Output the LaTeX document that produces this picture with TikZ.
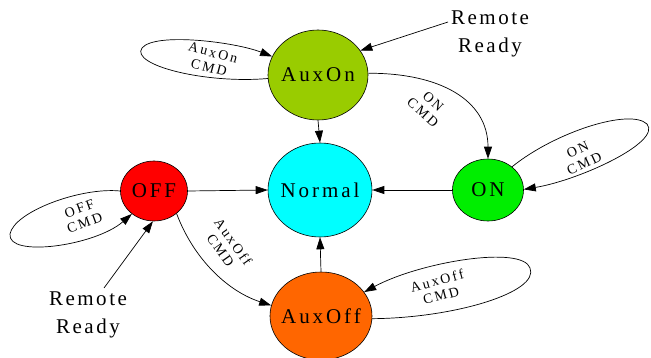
\documentclass[tikz,border=0pt]{standalone}
\usepackage{fontspec}
\setmainfont{Liberation Serif}
\newfontfamily\bigspaced[LetterSpace=14]{Liberation Serif}
\newfontfamily\remspaced[LetterSpace=12]{Liberation Serif}
\newfontfamily\smallspaced[LetterSpace=16]{Liberation Serif}
\usetikzlibrary{shapes.geometric,arrows.meta}
\definecolor{cauxon}{HTML}{99CC00}
\definecolor{cnormal}{HTML}{00FFFF}
\definecolor{coff}{HTML}{FF0000}
\definecolor{con}{HTML}{00EE00}
\definecolor{cauxoff}{HTML}{FF6600}
\newcommand{\nodetxt}[1]{\makebox[0pt][c]{\bigspaced\fontsize{21}{24}\selectfont #1}}
\tikzset{
  stnode/.style={ellipse, draw=black, line width=0.6pt, inner sep=0pt},
  conn/.style={draw=black, line width=0.7pt, -{Triangle[length=12pt,width=8pt]}},
  cmdlabel/.style={font=\smallspaced\fontsize{14}{15.5}\selectfont, align=center, inner sep=0pt},
  remlabel/.style={font=\remspaced\fontsize{21}{28}\selectfont, align=center, inner sep=0pt}
}
\begin{document}
\begin{tikzpicture}[x=1pt,y=-1pt]
\useasboundingbox (0,0) rectangle (651,358);
% states
\node[stnode, fill=cauxon, minimum width=100pt, minimum height=90pt] (auxon) at (318,75) {\nodetxt{AuxOn}};
\node[stnode, fill=cnormal, minimum width=104pt, minimum height=94pt] (normal) at (320,190) {\nodetxt{Normal}};
\node[stnode, fill=coff, minimum width=67pt, minimum height=60pt] (off) at (154,191) {\nodetxt{OFF}};
\node[stnode, fill=con, minimum width=71pt, minimum height=62pt] (on) at (488,190) {\nodetxt{ON}};
\node[stnode, fill=cauxoff, minimum width=102pt, minimum height=88pt] (auxoff) at (321,316) {\nodetxt{AuxOff}};
% external labels
\node[remlabel] (rrtop) at (490,34) {Remote\\Ready};
\node[remlabel] (rrbot) at (88,315) {Remote\\Ready};
\coordinate (rrtops) at (448,22);
\coordinate (rrbots) at (104,288);
% straight connectors
\draw[conn] (auxon.south) -- (normal.north);
\draw[conn] (off.east) -- (normal.west);
\draw[conn] (on.west) -- (normal.east);
\draw[conn] (auxoff.north) -- (normal.south);
\draw[conn] (rrtops) -- (auxon.30);
\draw[conn] (rrbots) -- (off.268);
% curved connectors
\draw[conn] (auxon.2) .. controls (440,73) and (488,100) .. (on.90);
\draw[conn] (off.315) .. controls (195,262) and (230,292) .. (auxoff.168);
% self loops
\draw[conn] (auxon.184) .. controls (205,84) and (130,65) .. (142,48) .. controls (155,32) and (235,42) .. (auxon.158);
\draw[conn] (on.44) .. controls (555,132) and (630,108) .. (647,124) .. controls (662,142) and (580,180) .. (on.1);
\draw[conn] (off.180) .. controls (80,187) and (14,212) .. (10,234) .. controls (7,258) and (95,246) .. (off.226);
\draw[conn] (auxoff.357) .. controls (455,318) and (540,292) .. (530,268) .. controls (522,245) and (420,262) .. (auxoff.29);
% labels
\node[cmdlabel, rotate=-15] (lauxon) at (211,60) {AuxOn\\CMD};
\node[cmdlabel, rotate=-42] (lon) at (428,107) {ON\\CMD};
\node[cmdlabel, rotate=25] (lonloop) at (581,157) {ON\\CMD};
\node[cmdlabel, rotate=20] (loff) at (82,216) {OFF\\CMD};
\node[cmdlabel, rotate=-55] (lauxoff) at (227,246) {AuxOff\\CMD};
\node[cmdlabel, rotate=15] (lauxoffloop) at (439,288) {AuxOff\\CMD};
\end{tikzpicture}
\end{document}
